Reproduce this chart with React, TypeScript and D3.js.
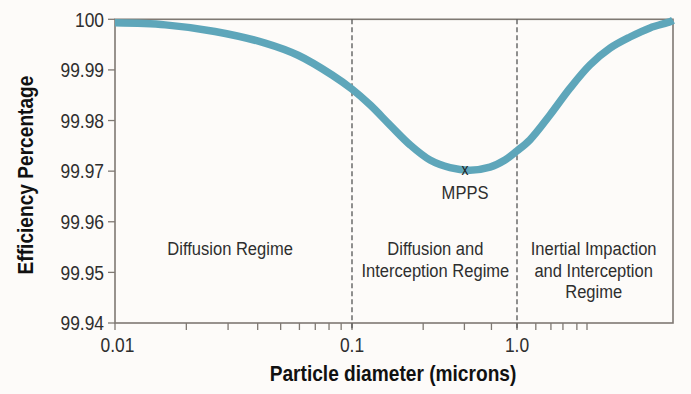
import React from "react";
import * as d3 from "d3";

const diameters = [0.01, 0.0163, 0.0264, 0.043, 0.0592, 0.0824, 0.1, 0.1286, 0.17, 0.2247, 0.297, 0.3926, 0.5188, 0.686, 0.846, 1.0, 1.211, 1.627, 2.188, 2.938, 3.948, 5.3, 7.12, 9.57, 10];
const efficiency = [99.9993, 99.9989, 99.9976, 99.9953, 99.9929, 99.989, 99.9862, 99.9831, 99.9791, 99.9752, 99.9722, 99.9707, 99.9702, 99.9708, 99.9722, 99.974, 99.9762, 99.9811, 99.9864, 99.991, 99.9943, 99.9965, 99.9983, 99.9995, 99.9998];

const yTicks = [99.94, 99.95, 99.96, 99.97, 99.98, 99.99, 100];
const yTickLabels = ["99.94", "99.95", "99.96", "99.97", "99.98", "99.99", "100"];
const xMajorTicks = [0.01, 0.1, 1];
const xMajorLabels = ["0.01", "0.1", "1.0"];
const xMinorTicks = [0.02, 0.03, 0.04, 0.05, 0.06, 0.07, 0.08, 0.09, 0.27, 0.48, 0.7, 1.32, 1.65, 1.97, 2.42, 2.81];
const regimeBoundaries = [0.1, 1];

const regimeLabels = [
  { x: 0.0306, lines: ["Diffusion Regime"] },
  { x: 0.32, lines: ["Diffusion and", "Interception Regime"] },
  { x: 3.1, lines: ["Inertial Impaction", "and Interception", "Regime"] },
];
const mpps = { x: 0.4842, y: 99.9704, label: "MPPS" };

const W = 691;
const H = 394;
const LEFT = 115;
const TOP = 19.3;
const BOTTOM = 323;
const FONT = "'Liberation Sans', Arial, sans-serif";
const SX = 0.87;

type TProps = {
  x: number;
  y: number;
  size: number;
  anchor?: string;
  weight?: string;
  rotate?: boolean;
  fill?: string;
  children: React.ReactNode;
};

function T({ x, y, size, anchor = "middle", weight = "normal", rotate = false, fill = "#2e2e2e", children }: TProps) {
  return (
    <text
      transform={`translate(${x},${y})${rotate ? " rotate(-90)" : ""} scale(${SX},1)`}
      textAnchor={anchor}
      fontSize={size}
      fontWeight={weight}
      fill={fill}
      fontFamily={FONT}
    >
      {children}
    </text>
  );
}

export default function App() {
  const x = d3.scaleLog().domain([0.01, 0.1, 1, 10]).range([LEFT, 352, 517, 673]);
  const y = d3.scaleLinear().domain([99.94, 100]).range([BOTTOM, TOP]);
  const RIGHT = x(10);

  const line = d3
    .line<number>()
    .x((_, i) => x(diameters[i]))
    .y((d) => y(d))
    .curve(d3.curveCatmullRom.alpha(0.5));

  const axisColor = "#7f7973";

  return (
    <svg width={W} height={H} style={{ position: "absolute", left: 0, top: 0 }}>
      <rect x={0} y={0} width={W} height={H} fill="#fdfbf9" />
      <rect x={LEFT} y={TOP} width={RIGHT - LEFT} height={BOTTOM - TOP} fill="none" stroke={axisColor} strokeWidth={1.6} />

      {yTicks.map((t, i) => (
        <g key={"y" + i}>
          <line x1={LEFT - 7} x2={LEFT} y1={y(t)} y2={y(t)} stroke={axisColor} strokeWidth={1.3} />
          <T x={104} y={y(t) + 7.2} size={20} anchor="end">
            {yTickLabels[i]}
          </T>
        </g>
      ))}

      {xMinorTicks.map((t, i) => (
        <line key={"xm" + i} x1={x(t)} x2={x(t)} y1={BOTTOM} y2={BOTTOM + 7} stroke={axisColor} strokeWidth={1.3} />
      ))}
      {xMajorTicks.map((t, i) => (
        <g key={"xM" + i}>
          <line x1={x(t)} x2={x(t)} y1={BOTTOM} y2={BOTTOM + 7} stroke={axisColor} strokeWidth={1.3} />
          <T x={x(t) + (i === 0 ? 2.5 : 0)} y={352} size={20}>
            {xMajorLabels[i]}
          </T>
        </g>
      ))}

      {regimeBoundaries.map((b, i) => (
        <line key={"b" + i} x1={x(b)} x2={x(b)} y1={TOP} y2={BOTTOM + 7} stroke="#555" strokeWidth={1.3} strokeDasharray="5,3" />
      ))}

      <path d={line(efficiency) || ""} fill="none" stroke="#5ea6ba" strokeWidth={7.5} strokeLinecap="butt" />

      <T x={x(mpps.x)} y={y(mpps.y) + 6} size={16} fill="#222">x</T>
      <T x={x(mpps.x)} y={199} size={19}>{mpps.label}</T>

      {regimeLabels.map((r, i) =>
        r.lines.map((l, j) => (
          <T key={"r" + i + "-" + j} x={x(r.x)} y={255 + j * 21.5} size={19}>
            {l}
          </T>
        ))
      )}

      <T x={393} y={381} size={22} weight="bold" fill="#111">
        Particle diameter (microns)
      </T>
      <T x={33} y={175} size={22} weight="bold" fill="#111" rotate>
        Efficiency Percentage
      </T>
    </svg>
  );
}
